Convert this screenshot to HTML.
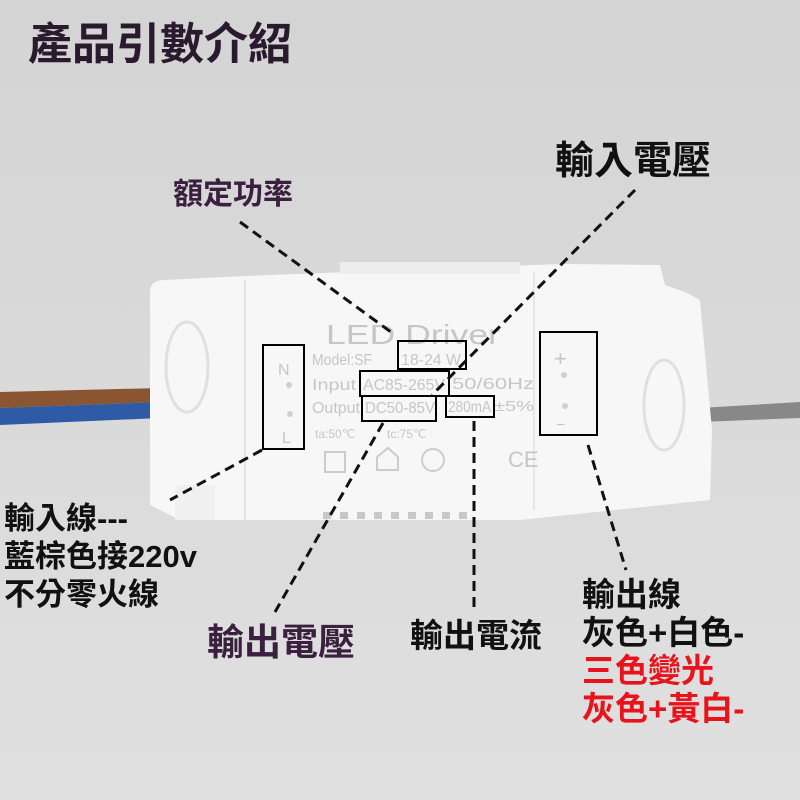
<!DOCTYPE html>
<html><head><meta charset="utf-8"><style>
body{margin:0;width:800px;height:800px;overflow:hidden;background:#dadada;font-family:"Liberation Sans","Noto Sans CJK TC",sans-serif}
svg{position:absolute;left:0;top:0}
.t{position:absolute;font-weight:bold;font-family:"Liberation Sans","Noto Sans CJK TC",sans-serif;white-space:nowrap;line-height:1.15}
</style></head><body>
<svg width="800" height="800" viewBox="0 0 800 800">
<defs><linearGradient id="bg" x1="0" y1="0" x2="0" y2="1"><stop offset="0" stop-color="#d4d4d4"/><stop offset="1" stop-color="#e0e0e0"/></linearGradient></defs>
<rect width="800" height="800" fill="url(#bg)"/>
<path d="M0 392 L160 388 L160 402 L0 408Z" fill="#8a5632"/>
<path d="M0 408 L160 402 L160 418 L0 425Z" fill="#2f5aa5"/>
<path d="M700 408 L800 402 L800 418 L700 422Z" fill="#888"/>
<path d="M150 292 Q150 280 165 280 L245 276 L560 264 L660 265 L665 285 L685 292 L700 300 L712 430 L710 500 L520 520 L180 520 L150 505Z" fill="#f7f7f7"/>
<rect x="340" y="262" width="180" height="12" fill="#ededed"/>
<rect x="175" y="485" width="40" height="35" fill="#f0f0f0"/>
<line x1="245" y1="280" x2="245" y2="520" stroke="#e4e4e4" stroke-width="2"/>
<line x1="534" y1="272" x2="534" y2="510" stroke="#e6e6e6" stroke-width="2"/>
<ellipse cx="187" cy="367" rx="21" ry="45" fill="none" stroke="#e0e0e0" stroke-width="3"/>
<ellipse cx="664" cy="405" rx="20" ry="45" fill="none" stroke="#e0e0e0" stroke-width="3"/>
<g fill="#c8c8c8"><rect x="323" y="512" width="8" height="7"/><rect x="340" y="512" width="8" height="7"/><rect x="357" y="512" width="8" height="7"/><rect x="374" y="512" width="8" height="7"/><rect x="391" y="512" width="8" height="7"/><rect x="408" y="512" width="8" height="7"/><rect x="425" y="512" width="8" height="7"/><rect x="442" y="512" width="8" height="7"/><rect x="459" y="512" width="8" height="7"/></g>
<g font-family="Liberation Sans,sans-serif" fill="#c6c6c6">
<text x="326" y="344" font-size="28" textLength="174" lengthAdjust="spacingAndGlyphs">LED Driver</text>
<text x="312" y="365" font-size="16" textLength="60" lengthAdjust="spacingAndGlyphs">Model:SF</text>
<text x="401" y="365" font-size="16" textLength="60" lengthAdjust="spacingAndGlyphs">18-24 W</text>
<text x="312" y="390" font-size="16" textLength="44" lengthAdjust="spacingAndGlyphs">Input</text>
<text x="363" y="390" font-size="16" textLength="82" lengthAdjust="spacingAndGlyphs">AC85-265V</text>
<text x="452" y="389" font-size="16" textLength="82" lengthAdjust="spacingAndGlyphs">50/60Hz</text>
<text x="312" y="413" font-size="16" textLength="48" lengthAdjust="spacingAndGlyphs">Output</text>
<text x="365" y="413" font-size="16" textLength="70" lengthAdjust="spacingAndGlyphs">DC50-85V</text>
<text x="448" y="412" font-size="16" textLength="43" lengthAdjust="spacingAndGlyphs">280mA</text>
<text x="494" y="411" font-size="15" textLength="40" lengthAdjust="spacingAndGlyphs">±5%</text>
<text x="315" y="438" font-size="12">ta:50℃</text>
<text x="387" y="438" font-size="12">tc:75℃</text>
<text x="508" y="467" font-size="22">CE</text>
<text x="278" y="375" font-size="16">N</text><text x="282" y="443" font-size="16">L</text>
<text x="554" y="366" font-size="22">+</text><text x="556" y="430" font-size="16">−</text>
</g>
<g fill="#cfcfcf"><circle cx="289" cy="385" r="3"/><circle cx="290" cy="414" r="3"/><circle cx="564" cy="375" r="3"/><circle cx="565" cy="406" r="3"/></g>
<rect x="325" y="452" width="20" height="20" fill="none" stroke="#ccc" stroke-width="2"/>
<circle cx="433" cy="460" r="11" fill="none" stroke="#ccc" stroke-width="2"/>
<path d="M377 470 L377 457 L388 448 L398 457 L398 470Z" fill="none" stroke="#ccc" stroke-width="2"/>
<g fill="none" stroke="#000" stroke-width="2">
<rect x="263" y="345" width="41" height="104"/>
<rect x="540" y="332" width="57" height="103"/>
<rect x="398" y="341" width="68" height="28"/>
<rect x="360" y="371" width="89" height="25"/>
<rect x="362" y="396" width="74" height="25"/>
<rect x="446" y="396" width="48" height="21"/>
</g>
<g stroke="#111" stroke-width="3" stroke-dasharray="10,6" fill="none">
<line x1="240" y1="222" x2="395" y2="335"/>
<line x1="635" y1="190" x2="432" y2="395"/>
<line x1="262" y1="450" x2="170" y2="500"/>
<line x1="383" y1="423" x2="275" y2="612"/>
<line x1="474" y1="421" x2="474" y2="612"/>
<line x1="588" y1="445" x2="626" y2="570"/>
</g>
</svg>
<div class="t" style="left:28px;top:20px;font-size:44px;color:#2a1a2e">產品引數介紹</div>
<div class="t" style="left:173px;top:178px;font-size:30px;color:#3a1f3f">額定功率</div>
<div class="t" style="left:555px;top:140px;font-size:39px;color:#111">輸入電壓</div>
<div class="t" style="left:4px;top:500px;font-size:31px;color:#111;line-height:38px">輸入線---<br>藍棕色接220v<br>不分零火線</div>
<div class="t" style="left:207px;top:622px;font-size:37px;color:#3a1f3f">輸出電壓</div>
<div class="t" style="left:410px;top:617px;font-size:33px;color:#111">輸出電流</div>
<div class="t" style="left:582px;top:576px;font-size:33px;color:#111;line-height:38px">輸出線<br>灰色+白色-<br><span style="color:#e8141b">三色變光<br>灰色+黃白-</span></div>
</body></html>
